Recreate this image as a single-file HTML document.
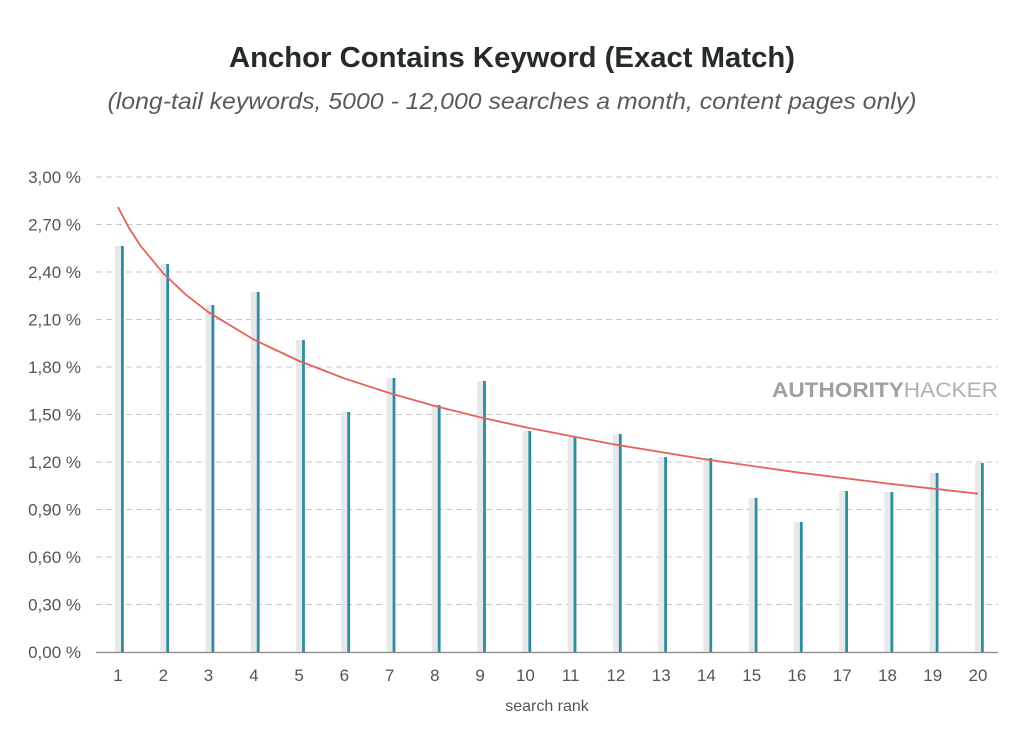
<!DOCTYPE html>
<html><head><meta charset="utf-8"><style>body{margin:0;background:#fff}svg{display:block}</style></head><body>
<svg width="1024" height="741" xmlns="http://www.w3.org/2000/svg" font-family="Liberation Sans, sans-serif">
<text x="512" y="67" text-anchor="middle" font-size="29" font-weight="bold" fill="#252a2c" textLength="566" lengthAdjust="spacingAndGlyphs">Anchor Contains Keyword (Exact Match)</text>
<text x="512" y="109" text-anchor="middle" font-size="23" font-style="italic" fill="#5a5a5a" textLength="809" lengthAdjust="spacingAndGlyphs">(long-tail keywords, 5000 - 12,000 searches a month, content pages only)</text>
<g stroke="#c8c8c8" stroke-width="1" stroke-dasharray="6,4">
<line x1="96" x2="998" y1="604.5" y2="604.5"/><line x1="96" x2="998" y1="557" y2="557"/><line x1="96" x2="998" y1="509.5" y2="509.5"/><line x1="96" x2="998" y1="462" y2="462"/><line x1="96" x2="998" y1="414.5" y2="414.5"/><line x1="96" x2="998" y1="367" y2="367"/><line x1="96" x2="998" y1="319.5" y2="319.5"/><line x1="96" x2="998" y1="272" y2="272"/><line x1="96" x2="998" y1="224.5" y2="224.5"/><line x1="96" x2="998" y1="177" y2="177"/>
</g>
<g font-size="17" fill="#555" text-anchor="end">
<text x="81" y="658">0,00 %</text><text x="81" y="610.5">0,30 %</text><text x="81" y="563">0,60 %</text><text x="81" y="515.5">0,90 %</text><text x="81" y="468">1,20 %</text><text x="81" y="420.5">1,50 %</text><text x="81" y="373">1,80 %</text><text x="81" y="325.5">2,10 %</text><text x="81" y="278">2,40 %</text><text x="81" y="230.5">2,70 %</text><text x="81" y="183">3,00 %</text>
</g>
<text x="998" y="397" text-anchor="end" font-size="21" fill="#a0a0a0" textLength="226" lengthAdjust="spacingAndGlyphs"><tspan font-weight="bold">AUTHORITY</tspan><tspan fill="#b0b0b0">HACKER</tspan></text>
<g fill="#e6e8ea">
<rect x="115" y="246" width="6" height="406"/><rect x="160.3" y="264" width="6" height="388"/><rect x="205.5" y="305" width="6" height="347"/><rect x="250.8" y="292" width="6" height="360"/><rect x="296.1" y="340" width="6" height="312"/><rect x="341.3" y="412" width="6" height="240"/><rect x="386.6" y="378" width="6" height="274"/><rect x="431.8" y="405" width="6" height="247"/><rect x="477.1" y="381" width="6" height="271"/><rect x="522.4" y="431" width="6" height="221"/><rect x="567.6" y="437" width="6" height="215"/><rect x="612.9" y="434" width="6" height="218"/><rect x="658.2" y="457" width="6" height="195"/><rect x="703.4" y="458" width="6" height="194"/><rect x="748.7" y="498" width="6" height="154"/><rect x="793.9" y="522" width="6" height="130"/><rect x="839.2" y="491" width="6" height="161"/><rect x="884.5" y="492" width="6" height="160"/><rect x="929.7" y="473" width="6" height="179"/><rect x="975" y="463" width="6" height="189"/>
</g>
<g fill="#2f8b9e">
<rect x="121" y="246" width="2.8" height="406"/><rect x="166.3" y="264" width="2.8" height="388"/><rect x="211.5" y="305" width="2.8" height="347"/><rect x="256.8" y="292" width="2.8" height="360"/><rect x="302.1" y="340" width="2.8" height="312"/><rect x="347.3" y="412" width="2.8" height="240"/><rect x="392.6" y="378" width="2.8" height="274"/><rect x="437.8" y="405" width="2.8" height="247"/><rect x="483.1" y="381" width="2.8" height="271"/><rect x="528.4" y="431" width="2.8" height="221"/><rect x="573.6" y="437" width="2.8" height="215"/><rect x="618.9" y="434" width="2.8" height="218"/><rect x="664.2" y="457" width="2.8" height="195"/><rect x="709.4" y="458" width="2.8" height="194"/><rect x="754.7" y="498" width="2.8" height="154"/><rect x="799.9" y="522" width="2.8" height="130"/><rect x="845.2" y="491" width="2.8" height="161"/><rect x="890.5" y="492" width="2.8" height="160"/><rect x="935.7" y="473" width="2.8" height="179"/><rect x="981" y="463" width="2.8" height="189"/>
</g>
<line x1="96" x2="998" y1="652.5" y2="652.5" stroke="#888" stroke-width="1.2"/>
<polyline fill="none" stroke="#e5625d" stroke-width="1.8" points="118,207.1 129.3,228.5 140.6,245.9 163.3,273.4 185.9,294.7 208.5,312.2 253.8,339.6 299.1,361 344.3,378.4 389.6,393.1 434.8,406 480.1,417.3 525.4,427.3 615.9,444.7 706.4,459.5 796.9,472.3 887.5,483.5 978,493.7"/>
<g font-size="17" fill="#555" text-anchor="middle">
<text x="118" y="681">1</text><text x="163.3" y="681">2</text><text x="208.5" y="681">3</text><text x="253.8" y="681">4</text><text x="299.1" y="681">5</text><text x="344.3" y="681">6</text><text x="389.6" y="681">7</text><text x="434.8" y="681">8</text><text x="480.1" y="681">9</text><text x="525.4" y="681">10</text><text x="570.6" y="681">11</text><text x="615.9" y="681">12</text><text x="661.2" y="681">13</text><text x="706.4" y="681">14</text><text x="751.7" y="681">15</text><text x="796.9" y="681">16</text><text x="842.2" y="681">17</text><text x="887.5" y="681">18</text><text x="932.7" y="681">19</text><text x="978" y="681">20</text>
</g>
<text x="547" y="711" text-anchor="middle" font-size="16" fill="#555">search rank</text>
</svg>
</body></html>
